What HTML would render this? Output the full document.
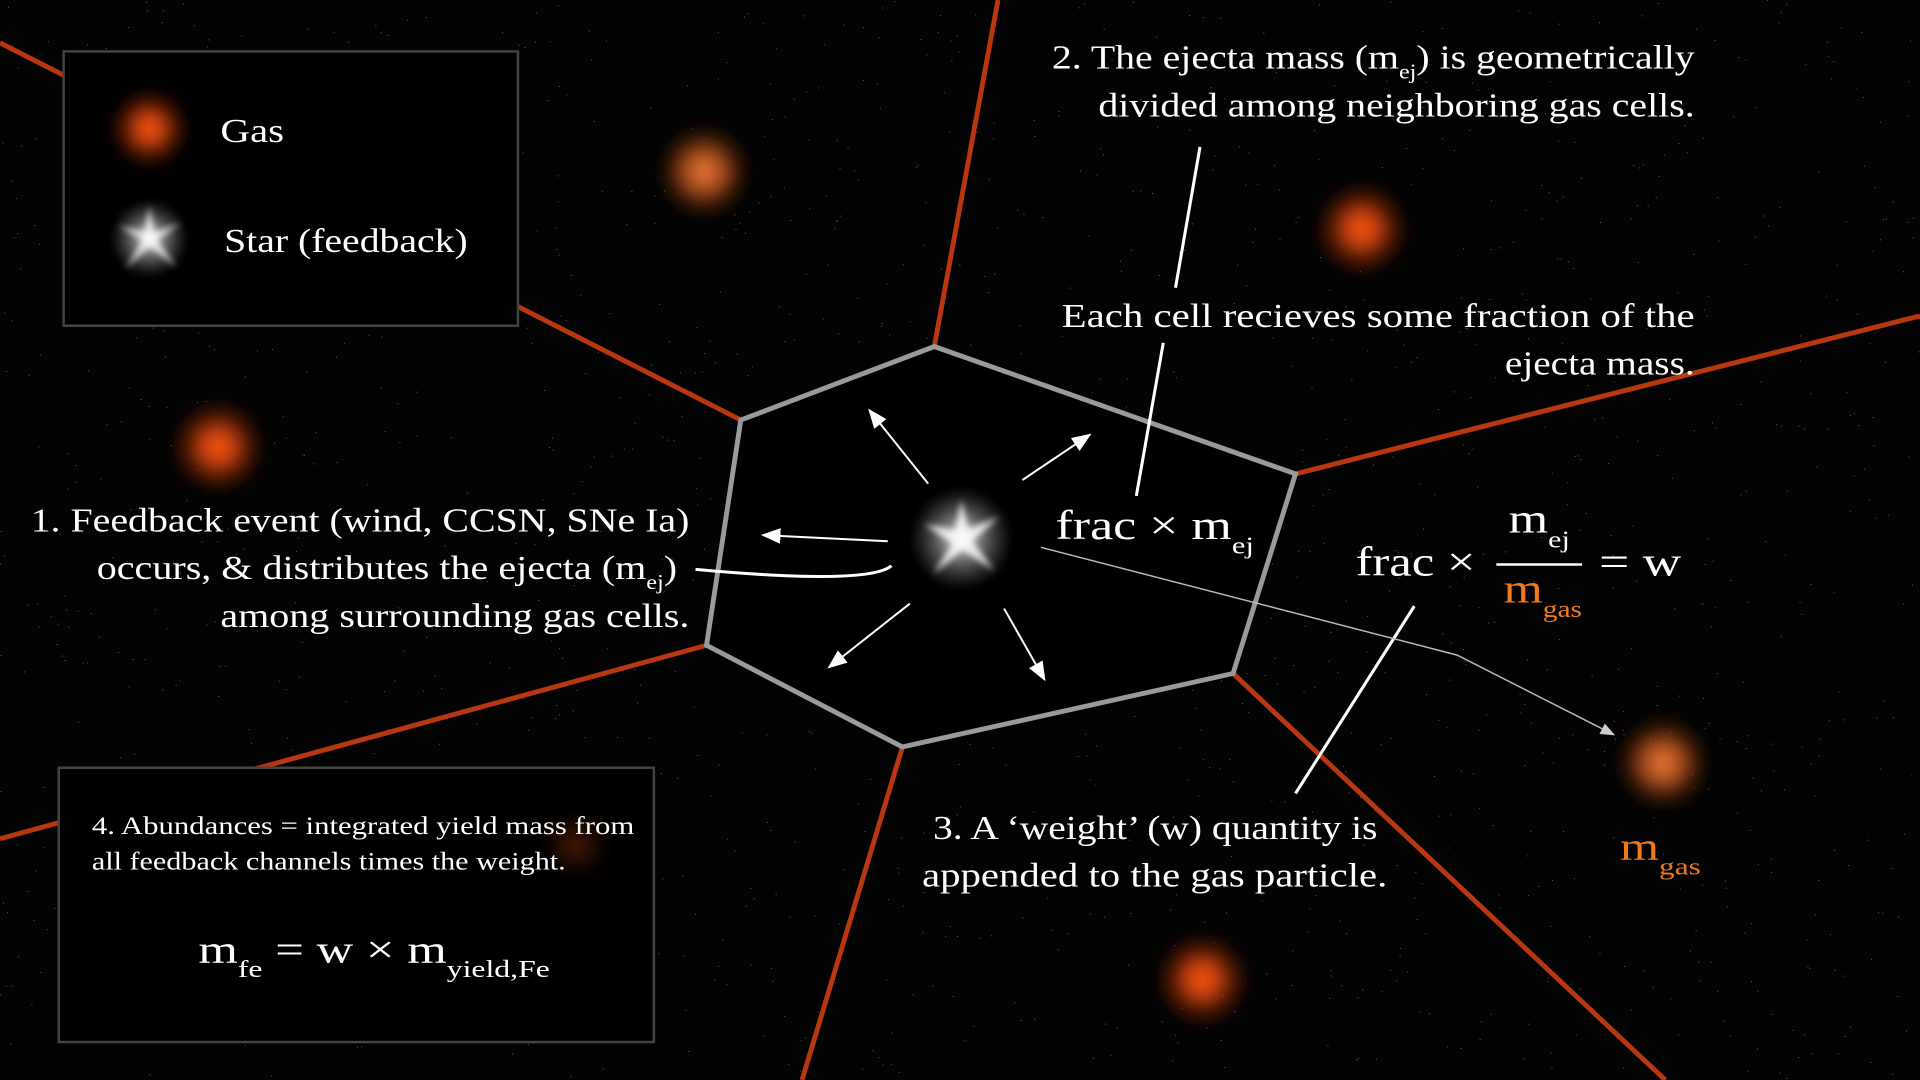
<!DOCTYPE html>
<html><head><meta charset="utf-8"><style>
html,body{margin:0;padding:0;background:#000;width:1920px;height:1080px;overflow:hidden}
svg{display:block}
text{font-family:"Liberation Serif",serif;fill:#fff}
</style></head><body>
<svg id="s" width="1920" height="1080" viewBox="0 0 1568 882">
<defs>
<radialGradient id="gas"><stop offset="0" stop-color="#ff5a10"/><stop offset="0.35" stop-color="#d8440e" stop-opacity="0.85"/><stop offset="1" stop-color="#5a1400" stop-opacity="0"/></radialGradient>
<radialGradient id="gas2"><stop offset="0" stop-color="#f07a38"/><stop offset="0.4" stop-color="#c85a20" stop-opacity="0.8"/><stop offset="1" stop-color="#4a1a00" stop-opacity="0"/></radialGradient>
<radialGradient id="star"><stop offset="0" stop-color="#fff"/><stop offset="0.25" stop-color="#ddd" stop-opacity="0.7"/><stop offset="1" stop-color="#888" stop-opacity="0"/></radialGradient>
<filter id="bl" x="-50%" y="-50%" width="200%" height="200%"><feGaussianBlur stdDeviation="5"/></filter>
<filter id="bl2" x="-50%" y="-50%" width="200%" height="200%"><feGaussianBlur stdDeviation="2.5"/></filter>
<marker id="ah" markerWidth="10" markerHeight="8" refX="9" refY="4" orient="auto"><path d="M0,0 L10,4 L0,8 z" fill="#fff"/></marker>
<marker id="ahg" markerWidth="10" markerHeight="8" refX="9" refY="4" orient="auto"><path d="M0,0 L10,4 L0,8 z" fill="#ccc"/></marker>
</defs>
<rect width="1568" height="882" fill="#030303"/>
<g id="stars"></g>
<g stroke="#b83610" stroke-width="4">
<line x1="0" y1="35" x2="605" y2="343"/><line x1="815" y1="0" x2="763" y2="283"/>
<line x1="1568" y1="258" x2="1058" y2="387"/><line x1="1007" y1="550" x2="1360" y2="882"/>
<line x1="737" y1="610" x2="655" y2="882"/><line x1="577" y1="527" x2="0" y2="685"/>
</g>
<g id="blobs"></g>
<polygon points="605,343 763,283 1058,387 1007,550 737,610 577,527" fill="#000" stroke="#9a9a9a" stroke-width="4"/>
<rect x="52" y="42" width="371" height="224" fill="#000" stroke="#444" stroke-width="2"/>
<circle cx="122" cy="105" r="34" fill="url(#gas)" filter="url(#bl)"/>
<text x="180" y="116" font-size="28" textLength="52" lengthAdjust="spacingAndGlyphs">Gas</text>
<g><circle cx="122" cy="195" r="32" fill="url(#star)" filter="url(#bl2)"/><path d="M122,168 L126,190 L148,182 L128,196 L144,218 L122,201 L102,220 L117,196 L96,184 L118,190 z" fill="#fff" opacity="0.8" filter="url(#bl2)"/></g>
<text x="183" y="206" font-size="28" textLength="199" lengthAdjust="spacingAndGlyphs">Star (feedback)</text>
<rect x="48" y="627" width="486" height="224" fill="#000" stroke="#444" stroke-width="2"/>
<circle cx="470" cy="690" r="30" fill="url(#gas)" opacity="0.25" filter="url(#bl)"/>
<text x="75" y="681" font-size="21" textLength="443" lengthAdjust="spacingAndGlyphs">4. Abundances = integrated yield mass from</text>
<text x="75" y="710" font-size="21" textLength="387" lengthAdjust="spacingAndGlyphs">all feedback channels times the weight.</text>
<text x="162" y="786" font-size="32" textLength="287" lengthAdjust="spacingAndGlyphs">m<tspan font-size="20" dy="12">fe</tspan><tspan dy="-12"> = w × m</tspan><tspan font-size="20" dy="12">yield,Fe</tspan></text>
<g><circle cx="785" cy="440" r="42" fill="url(#star)" filter="url(#bl2)"/><path d="M785,408 L791,432 L816,422 L794,442 L812,466 L786,449 L762,469 L778,444 L755,428 L780,433 z" fill="#fff" opacity="0.85" filter="url(#bl2)"/></g>
<g stroke="#fff" stroke-width="1.6" fill="none">
<line x1="758" y1="395" x2="710" y2="335" marker-end="url(#ah)"/>
<line x1="835" y1="392" x2="890" y2="355" marker-end="url(#ah)"/>
<line x1="725" y1="442" x2="623" y2="437" marker-end="url(#ah)"/>
<line x1="743" y1="493" x2="677" y2="545" marker-end="url(#ah)"/>
<line x1="820" y1="497" x2="853" y2="555" marker-end="url(#ah)"/>
<path d="M728,462 Q710,478 568,465" stroke-width="2.5"/>
<line x1="980" y1="120" x2="960" y2="235" stroke-width="2.5"/>
<line x1="950" y1="280" x2="928" y2="405" stroke-width="2.5"/>
<line x1="1155" y1="495" x2="1058" y2="648" stroke-width="2.5"/>
</g>
<path d="M850,447 L1190,535 L1318,600" stroke="#bbb" stroke-width="1.2" fill="none" marker-end="url(#ahg)"/>
<g font-size="28" text-anchor="end">
<text x="563" y="434" textLength="538" lengthAdjust="spacingAndGlyphs">1. Feedback event (wind, CCSN, SNe Ia)</text>
<text x="553" y="473" textLength="474" lengthAdjust="spacingAndGlyphs">occurs, &amp; distributes the ejecta (m<tspan font-size="17" dy="8">ej</tspan><tspan dy="-8">)</tspan></text>
<text x="563" y="512" textLength="383" lengthAdjust="spacingAndGlyphs">among surrounding gas cells.</text>
<text x="1384" y="56" textLength="525" lengthAdjust="spacingAndGlyphs">2. The ejecta mass (m<tspan font-size="17" dy="8">ej</tspan><tspan dy="-8">) is geometrically</tspan></text>
<text x="1384" y="95" textLength="487" lengthAdjust="spacingAndGlyphs">divided among neighboring gas cells.</text>
<text x="1384" y="267" textLength="517" lengthAdjust="spacingAndGlyphs">Each cell recieves some fraction of the</text>
<text x="1384" y="306" textLength="155" lengthAdjust="spacingAndGlyphs">ejecta mass.</text>
</g>
<text x="862" y="440" font-size="34" textLength="162" lengthAdjust="spacingAndGlyphs">frac × m<tspan font-size="20" dy="12">ej</tspan></text>
<g>
<text x="1107" y="470" font-size="34" textLength="98" lengthAdjust="spacingAndGlyphs">frac ×</text>
<text x="1232" y="435" font-size="34" textLength="50" lengthAdjust="spacingAndGlyphs">m<tspan font-size="20" dy="12">ej</tspan></text>
<line x1="1222" y1="461" x2="1292" y2="461" stroke="#fff" stroke-width="2"/>
<text x="1228" y="492" font-size="34" textLength="64" lengthAdjust="spacingAndGlyphs" style="fill:#f07a1a">m<tspan font-size="20" dy="12" style="fill:#f07a1a">gas</tspan></text>
<text x="1306" y="470" font-size="34" textLength="67" lengthAdjust="spacingAndGlyphs">= w</text>
</g>
<text x="762" y="685" font-size="28" textLength="363" lengthAdjust="spacingAndGlyphs">3. A ‘weight’ (w) quantity is</text>
<text x="753" y="724" font-size="28" textLength="380" lengthAdjust="spacingAndGlyphs">appended to the gas particle.</text>
<text x="1323" y="702" font-size="32" textLength="66" lengthAdjust="spacingAndGlyphs" style="fill:#f07a1a">m<tspan font-size="20" dy="12" style="fill:#f07a1a">gas</tspan></text>
</svg>
<script>
const blobX=[575,1112,178,1358,982];
const blobY=[140,187,365,623,800];
const ns="http://www.w3.org/2000/svg";
const g=document.getElementById('blobs');
blobX.forEach((x,i)=>{const c=document.createElementNS(ns,'circle');
c.setAttribute('cx',x);c.setAttribute('cy',blobY[i]);c.setAttribute('r',40);
c.setAttribute('fill',i==0||i==3?'url(#gas2)':'url(#gas)');
c.setAttribute('filter','url(#bl)');


g.appendChild(c);});
const st=document.getElementById('stars');let seed=7;
function r(){seed=(seed*16807)%2147483647;return seed/2147483647;}
for(let i=0;i<1500;i++){const c=document.createElementNS(ns,'rect');
c.setAttribute('x',r()*1568);c.setAttribute('y',r()*882);c.setAttribute('width',0.8);c.setAttribute('height',0.8);
c.setAttribute('fill','#666');st.appendChild(c);}
</script>
</body></html>
